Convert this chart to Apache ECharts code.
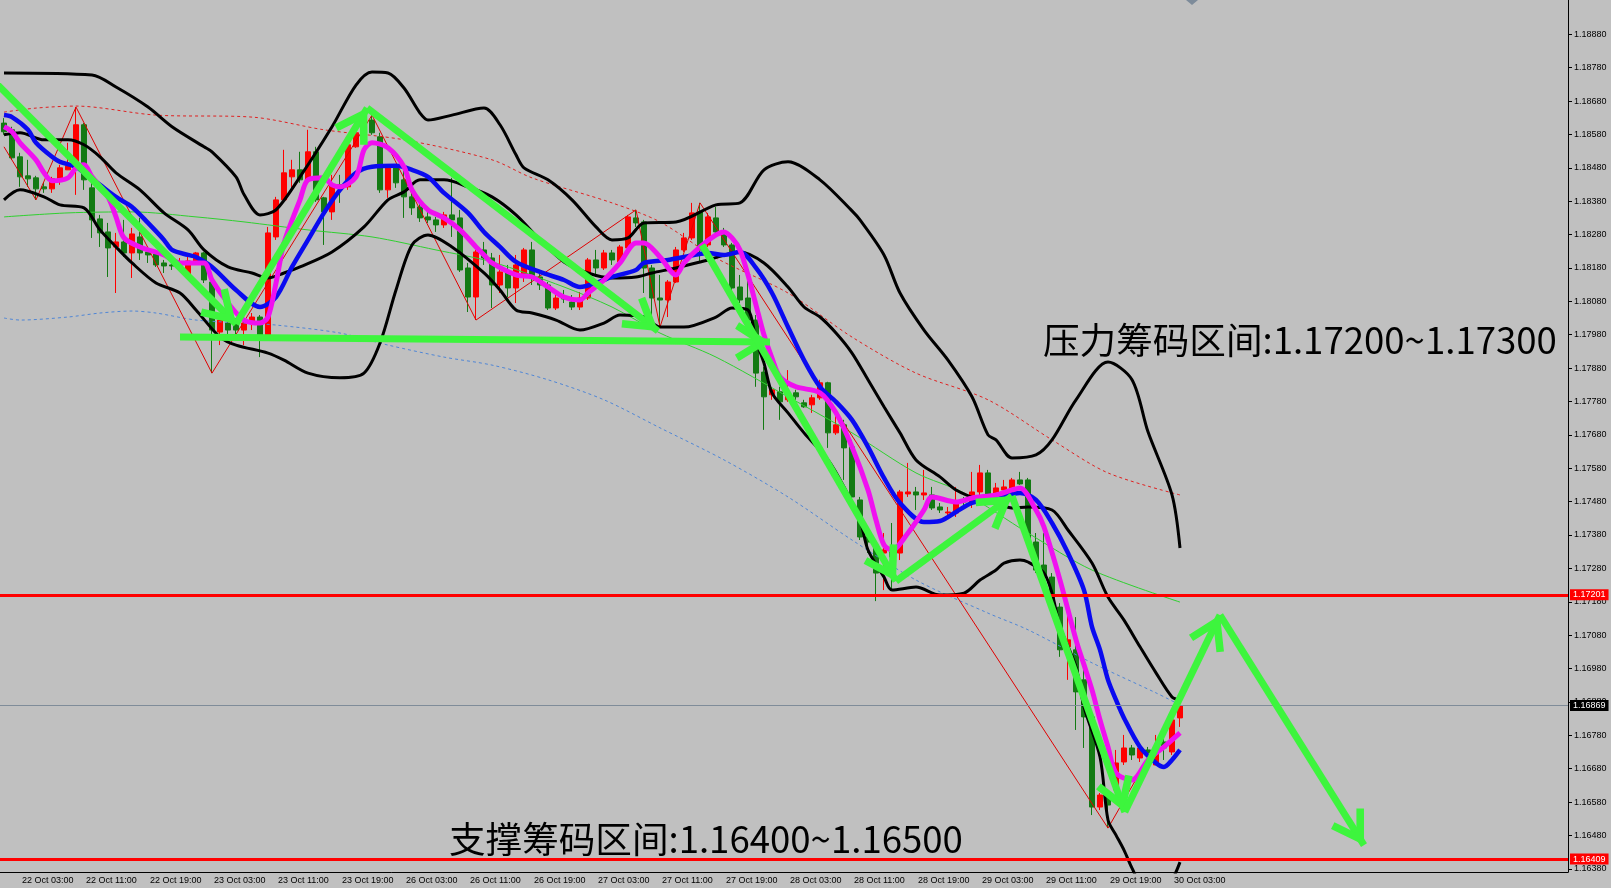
<!DOCTYPE html>
<html><head><meta charset="utf-8">
<script src="https://cdn.jsdelivr.net/npm/echarts@6/dist/echarts.min.js"></script>
<style>html,body{margin:0;padding:0;background:#c0c0c0;}#c{width:1611px;height:888px;}</style>
</head><body><div id="c"></div>
<script>
// ---------- DATA ----------
const days = ['22 Oct','23 Oct','26 Oct','27 Oct','28 Oct','29 Oct','30 Oct','31 Oct','01 Nov'];
const firstHour = 1;           // chart starts at 22 Oct 01:00
const slotCount = 196;         // bars + right shift space
const yTicks = [1.16380,1.16480,1.16580,1.16680,1.16780,1.16880,1.16980,1.17080,1.17180,1.17280,1.17380,1.17480,1.17580,1.17680,1.17780,1.17880,1.17980,1.18080,1.18180,1.18280,1.18380,1.18480,1.18580,1.18680,1.18780,1.18880];

// [open, close, low, high]
const ohlc = [
[1.18614,1.18588,1.18579,1.18629],[1.18594,1.18510,1.18504,1.18603],[1.18513,1.18453,1.18423,1.18525],[1.18456,1.18447,1.18423,1.18504],
[1.18450,1.18417,1.18384,1.18456],[1.18423,1.18417,1.18405,1.18435],[1.18417,1.18447,1.18405,1.18453],[1.18444,1.18480,1.18429,1.18489],
[1.18474,1.18486,1.18474,1.18555],[1.18489,1.18609,1.18399,1.18662],[1.18609,1.18444,1.18414,1.18614],[1.18420,1.18324,1.18270,1.18444],
[1.18327,1.18285,1.18243,1.18339],[1.18288,1.18240,1.18153,1.18315],[1.18243,1.18258,1.18105,1.18285],[1.18258,1.18225,1.18213,1.18324],
[1.18225,1.18282,1.18150,1.18300],[1.18273,1.18225,1.18204,1.18330],[1.18228,1.18219,1.18195,1.18243],[1.18222,1.18189,1.18183,1.18234],
[1.18195,1.18186,1.18165,1.18204],[1.18189,1.18186,1.18174,1.18198],[1.18189,1.18198,1.18180,1.18210],[1.18159,1.18201,1.18153,1.18219],
[1.18195,1.18225,1.18189,1.18228],[1.18225,1.18144,1.18135,1.18228],[1.18138,1.17994,1.17865,1.18144],[1.17988,1.18024,1.17949,1.18033],
[1.18015,1.17994,1.17955,1.18024],[1.18018,1.17994,1.17979,1.18030],[1.17994,1.18015,1.17949,1.18024],[1.18015,1.18033,1.17994,1.18045],
[1.18033,1.17979,1.17913,1.18039],[1.17979,1.18285,1.17973,1.18303],[1.18273,1.18384,1.18264,1.18393],[1.18384,1.18465,1.18378,1.18534],
[1.18453,1.18474,1.18414,1.18504],[1.18474,1.18444,1.18435,1.18528],[1.18444,1.18528,1.18435,1.18594],[1.18528,1.18384,1.18378,1.18543],
[1.18390,1.18348,1.18249,1.18393],[1.18348,1.18429,1.18324,1.18459],[1.18429,1.18420,1.18375,1.18459],[1.18423,1.18549,1.18414,1.18573],
[1.18543,1.18585,1.18540,1.18603],[1.18579,1.18617,1.18573,1.18632],[1.18623,1.18585,1.18579,1.18638],[1.18573,1.18414,1.18405,1.18585],
[1.18414,1.18480,1.18390,1.18489],[1.18480,1.18435,1.18420,1.18489],[1.18444,1.18393,1.18330,1.18480],[1.18393,1.18360,1.18339,1.18405],
[1.18363,1.18330,1.18318,1.18375],[1.18333,1.18324,1.18315,1.18363],[1.18324,1.18309,1.18288,1.18333],[1.18309,1.18339,1.18300,1.18348],
[1.18339,1.18324,1.18273,1.18450],[1.18330,1.18174,1.18168,1.18354],[1.18180,1.18093,1.18048,1.18195],[1.18093,1.18228,1.18024,1.18234],
[1.18234,1.18210,1.18189,1.18258],[1.18210,1.18129,1.18060,1.18225],[1.18129,1.18168,1.18105,1.18219],[1.18165,1.18120,1.18093,1.18189],
[1.18120,1.18189,1.18075,1.18219],[1.18153,1.18234,1.18138,1.18240],[1.18234,1.18150,1.18129,1.18258],[1.18153,1.18129,1.18114,1.18174],
[1.18129,1.18060,1.18054,1.18138],[1.18060,1.18090,1.18054,1.18099],[1.18090,1.18087,1.18075,1.18114],[1.18078,1.18063,1.18054,1.18099],
[1.18063,1.18090,1.18054,1.18108],[1.18090,1.18204,1.18084,1.18210],[1.18204,1.18180,1.18153,1.18234],[1.18180,1.18225,1.18174,1.18234],
[1.18225,1.18204,1.18189,1.18234],[1.18198,1.18243,1.18195,1.18249],[1.18240,1.18333,1.18234,1.18339],[1.18330,1.18315,1.18303,1.18354],
[1.18318,1.18180,1.18105,1.18324],[1.18180,1.18090,1.18024,1.18189],[1.18090,1.18084,1.18003,1.18159],[1.18084,1.18138,1.18033,1.18144],
[1.18138,1.18234,1.18135,1.18243],[1.18234,1.18270,1.18228,1.18285],[1.18270,1.18345,1.18264,1.18375],[1.18348,1.18234,1.18195,1.18375],
[1.18249,1.18333,1.18243,1.18345],[1.18330,1.18288,1.18285,1.18363],[1.18288,1.18249,1.18243,1.18300],[1.18249,1.18120,1.18114,1.18255],
[1.18123,1.18084,1.18075,1.18159],[1.18090,1.18024,1.18018,1.18144],[1.18024,1.17865,1.17824,1.18039],[1.17868,1.17794,1.17695,1.17883],
[1.17800,1.17815,1.17785,1.17821],[1.17809,1.17779,1.17725,1.17824],[1.17785,1.17800,1.17779,1.17874],[1.17806,1.17794,1.17785,1.17815],
[1.17776,1.17764,1.17761,1.17785],[1.17770,1.17791,1.17746,1.17800],[1.17791,1.17836,1.17785,1.17845],[1.17836,1.17686,1.17641,1.17839],
[1.17686,1.17710,1.17680,1.17746],[1.17710,1.17641,1.17545,1.17725],[1.17644,1.17494,1.17485,1.17665],[1.17485,1.17374,1.17365,1.17494],
[1.17374,1.17359,1.17326,1.17395],[1.17341,1.17266,1.17182,1.17344],[1.17326,1.17335,1.17215,1.17386],[1.17335,1.17314,1.17215,1.17416],
[1.17326,1.17509,1.17305,1.17515],[1.17503,1.17509,1.17494,1.17596],[1.17509,1.17500,1.17455,1.17524],[1.17500,1.17506,1.17485,1.17575],
[1.17500,1.17461,1.17455,1.17524],[1.17464,1.17455,1.17446,1.17476],[1.17446,1.17449,1.17440,1.17464],[1.17446,1.17479,1.17434,1.17524],
[1.17485,1.17479,1.17464,1.17494],[1.17476,1.17509,1.17461,1.17569],[1.17509,1.17566,1.17476,1.17590],[1.17566,1.17479,1.17476,1.17575],
[1.17485,1.17521,1.17479,1.17536],[1.17515,1.17524,1.17506,1.17545],[1.17515,1.17545,1.17509,1.17551],[1.17545,1.17533,1.17530,1.17569],
[1.17545,1.17365,1.17356,1.17551],[1.17359,1.17275,1.17266,1.17386],[1.17290,1.17254,1.17245,1.17386],[1.17254,1.17164,1.17155,1.17266],
[1.17164,1.17036,1.17015,1.17176],[1.17045,1.17066,1.16946,1.17164],[1.17036,1.16910,1.16796,1.17134],[1.16946,1.16835,1.16742,1.16976],
[1.16835,1.16565,1.16541,1.16847],[1.16565,1.16601,1.16556,1.16607],[1.16601,1.16571,1.16502,1.16607],[1.16616,1.16697,1.16607,1.16736],
[1.16700,1.16742,1.16691,1.16781],[1.16742,1.16721,1.16706,1.16751],[1.16712,1.16742,1.16700,1.16751],[1.16736,1.16727,1.16706,1.16745],
[1.16691,1.16745,1.16691,1.16781],[1.16760,1.16742,1.16706,1.16787],[1.16730,1.16826,1.16721,1.16832],[1.16832,1.16868,1.16805,1.16877]
];

// indicator lines: [bar index, price]
const bbUpper = [[0,1.18764],[11,1.18758],[14,1.18722],[18,1.18662],[21,1.18603],[25,1.18543],[26,1.18528],[29,1.18453],[30,1.18400],[32,1.18339],[34,1.18354],[37,1.18453],[41,1.18603],[44,1.18728],[46,1.18767],[48,1.18764],[50,1.18719],[52,1.18644],[53,1.18623],[56,1.18638],[60,1.18659],[62,1.18609],[64,1.18519],[65,1.18480],[68,1.18444],[71,1.18384],[74,1.18303],[76,1.18264],[78,1.18270],[80,1.18315],[84,1.18318],[89,1.18369],[92,1.18375],[95,1.18474],[98,1.18498],[102,1.18444],[106,1.18351],[107,1.18324],[110,1.18219],[112,1.18105],[115,1.17994],[118,1.17904],[121,1.17794],[123,1.17680],[124,1.17665],[126,1.17611],[129,1.17620],[131,1.17665],[134,1.17785],[138,1.17898],[141,1.17845],[143,1.17689],[146,1.17500],[147,1.17341]];
const bbMiddle = [[0,1.18579],[2,1.18585],[5,1.18564],[8,1.18564],[10,1.18549],[12,1.18513],[14,1.18465],[17,1.18414],[20,1.18345],[23,1.18294],[25,1.18234],[28,1.18183],[31,1.18165],[33,1.18150],[35,1.18165],[37,1.18183],[41,1.18228],[45,1.18303],[48,1.18384],[50,1.18408],[52,1.18444],[55,1.18444],[58,1.18423],[61,1.18393],[64,1.18339],[67,1.18264],[70,1.18198],[73,1.18165],[76,1.18150],[79,1.18153],[81,1.18165],[84,1.18180],[88,1.18204],[92,1.18228],[95,1.18195],[98,1.18123],[100,1.18063],[102,1.18033],[104,1.17985],[106,1.17925],[108,1.17845],[110,1.17764],[112,1.17686],[114,1.17605],[117,1.17554],[119,1.17515],[122,1.17485],[124,1.17476],[126,1.17461],[128,1.17464],[131,1.17455],[133,1.17395],[136,1.17296],[138,1.17194],[140,1.17125],[142,1.17045],[144,1.16967],[146,1.16895],[147,1.16886]];
const bbLower = [[0,1.18384],[2,1.18414],[5,1.18393],[7,1.18369],[10,1.18360],[12,1.18294],[14,1.18243],[16,1.18195],[19,1.18135],[22,1.18105],[24,1.18054],[27,1.17973],[29,1.17949],[33,1.17925],[35,1.17904],[38,1.17865],[42,1.17851],[45,1.17865],[47,1.17955],[49,1.18114],[51,1.18249],[53,1.18279],[56,1.18243],[60,1.18165],[62,1.18114],[64,1.18054],[66,1.18045],[69,1.18024],[72,1.17994],[75,1.18015],[77,1.18039],[80,1.18033],[82,1.18003],[85,1.18003],[89,1.18033],[91,1.18060],[93,1.18054],[94,1.17963],[95,1.17895],[96,1.17806],[98,1.17746],[100,1.17686],[103,1.17605],[105,1.17524],[107,1.17425],[108,1.17335],[110,1.17254],[111,1.17215],[114,1.17224],[117,1.17200],[120,1.17206],[122,1.17245],[124,1.17275],[125,1.17296],[127,1.17305],[128,1.17299],[130,1.17266],[131,1.17206],[132,1.17105],[134,1.16985],[135,1.16865],[137,1.16715],[138,1.16526],[139,1.16481],[140,1.16436],[141,1.16382],[142,1.16340],[144,1.16316],[145,1.16322],[146,1.16346],[147,1.16400]];
const maFast = [[0,1.18603],[1,1.18588],[2,1.18555],[4,1.18504],[5,1.18465],[6,1.18441],[8,1.18450],[9,1.18480],[10,1.18489],[11,1.18453],[13,1.18393],[14,1.18333],[15,1.18270],[17,1.18243],[20,1.18219],[22,1.18195],[25,1.18195],[26,1.18144],[28,1.18075],[30,1.18024],[32,1.18015],[33,1.18033],[34,1.18135],[35,1.18255],[37,1.18384],[38,1.18444],[40,1.18450],[41,1.18429],[42,1.18423],[44,1.18453],[45,1.18534],[46,1.18555],[48,1.18540],[50,1.18483],[51,1.18414],[53,1.18354],[55,1.18330],[57,1.18294],[59,1.18243],[60,1.18219],[61,1.18195],[64,1.18159],[66,1.18153],[68,1.18123],[70,1.18093],[72,1.18084],[73,1.18105],[75,1.18144],[77,1.18195],[79,1.18255],[80,1.18255],[82,1.18213],[84,1.18159],[85,1.18195],[87,1.18243],[89,1.18279],[90,1.18288],[91,1.18270],[92,1.18234],[93,1.18159],[94,1.18069],[95,1.17979],[96,1.17910],[97,1.17854],[99,1.17824],[102,1.17806],[104,1.17746],[106,1.17644],[108,1.17515],[109,1.17425],[110,1.17350],[111,1.17335],[113,1.17386],[115,1.17455],[116,1.17494],[119,1.17479],[121,1.17491],[124,1.17500],[126,1.17515],[127,1.17521],[129,1.17455],[130,1.17404],[132,1.17245],[134,1.17066],[135,1.16991],[136,1.16916],[137,1.16826],[138,1.16745],[139,1.16667],[141,1.16646],[143,1.16706],[145,1.16745],[147,1.16787]];
const maSlow = [[0,1.18638],[1,1.18632],[3,1.18594],[4,1.18555],[6,1.18513],[7,1.18498],[9,1.18483],[10,1.18465],[12,1.18429],[14,1.18393],[16,1.18363],[18,1.18315],[20,1.18264],[21,1.18234],[23,1.18219],[24,1.18213],[26,1.18183],[29,1.18114],[32,1.18063],[34,1.18093],[36,1.18183],[38,1.18264],[40,1.18345],[42,1.18414],[44,1.18465],[46,1.18483],[49,1.18486],[51,1.18474],[53,1.18453],[55,1.18405],[58,1.18345],[60,1.18288],[62,1.18243],[64,1.18198],[67,1.18168],[70,1.18144],[72,1.18123],[74,1.18135],[76,1.18153],[79,1.18174],[80,1.18195],[83,1.18204],[85,1.18213],[88,1.18225],[90,1.18219],[92,1.18228],[94,1.18180],[96,1.18105],[98,1.18003],[100,1.17904],[102,1.17824],[104,1.17779],[106,1.17725],[108,1.17644],[110,1.17551],[112,1.17476],[115,1.17419],[117,1.17422],[119,1.17449],[121,1.17476],[124,1.17491],[127,1.17506],[129,1.17485],[131,1.17416],[133,1.17326],[135,1.17215],[136,1.17105],[137,1.17036],[138,1.16946],[139,1.16886],[140,1.16832],[142,1.16745],[144,1.16697],[145,1.16685],[146,1.16706],[147,1.16736]];
const maRedDash = [[0,1.18647],[4,1.18659],[9,1.18665],[19,1.18638],[31,1.18632],[40,1.18594],[50,1.18564],[61,1.18504],[66,1.18450],[76,1.18375],[82,1.18318],[89,1.18210],[98,1.18105],[106,1.17973],[114,1.17865],[123,1.17785],[131,1.17665],[138,1.17566],[147,1.17500]];
const maBlueDot = [[0,1.18030],[2,1.18024],[8,1.18033],[12,1.18045],[16,1.18051],[19,1.18045],[24,1.18024],[30,1.18015],[34,1.18009],[42,1.17985],[48,1.17949],[55,1.17913],[61,1.17889],[68,1.17845],[75,1.17785],[82,1.17701],[90,1.17605],[98,1.17494],[106,1.17365],[114,1.17245],[123,1.17146],[128,1.17096],[136,1.16997],[144,1.16907],[147,1.16871]];
const maGreen = [[0,1.18333],[8,1.18345],[16,1.18348],[24,1.18333],[30,1.18318],[38,1.18294],[46,1.18273],[54,1.18234],[61,1.18198],[70,1.18123],[76,1.18063],[82,1.17985],[89,1.17913],[98,1.17794],[106,1.17686],[114,1.17566],[120,1.17506],[128,1.17386],[136,1.17275],[147,1.17179]];
const zigzag = [[0,1.18543],[4,1.18384],[9,1.18662],[26,1.17865],[46,1.18638],[59,1.18024],[79,1.18354],[82,1.18003],[87,1.18375],[138,1.16502],[147,1.16877]];

// hand-drawn arrow segments: [from, to] as [bar index, price]
const arrows = [
  [[-2,1.18758],[29,1.18012]],
  [[29,1.18012],[45.4,1.18659]],
  [[45.4,1.18659],[81.75,1.17991]],
  [[22,1.17973],[95.75,1.17958]],
  [[87.25,1.18249],[111.5,1.17242]],
  [[111.5,1.17242],[126,1.17497]],
  [[126,1.17497],[140.1,1.16550]],
  [[140.1,1.16550],[152,1.17140]],
  [[152,1.17140],[170,1.16451]]
];

const resistLevel = 1.17201, supportLevel = 1.16409, bidLevel = 1.16869;
const resistText = '压力筹码区间:1.17200~1.17300';
const supportText = '支撑筹码区间:1.16400~1.16500';

// ---------- BUILD ----------
const categories = [];
outer: for (let d = 0; d < days.length; d++) {
  for (let h = (d === 0 ? firstHour : 0); h < 24; h++) {
    categories.push(days[d] + ' ' + String(h).padStart(2,'0') + ':00');
    if (categories.length >= slotCount) break outer;
  }
}
const lastBar = ohlc.length - 1;
const showLab = (i) => i % 8 === 2 && i <= lastBar;

const chevron = 'path://M15,0 L30,24 L25,27 L15,11 L5,27 L0,24 Z M-12,-27 L-11.9,-27 L-12,-26.9 Z M42,27 L41.9,27 L42,26.9 Z';
const axisFont = 'Liberation Sans';
const GREEN = '#3df53d';

function lineSeries(data, color, width, type, smooth) {
  return { type:'line', xAxisIndex:1, data, showSymbol:false, silent:true, smooth: smooth,
    lineStyle:{ color, width, type: type || 'solid' }, z:3 };
}
function levelLine(value, color, width, bg) {
  return { yAxis:value, lineStyle:{ color, width, type:'solid' },
    label:{ formatter:value.toFixed(5), backgroundColor:bg, color:'#fff' } };
}

const chart = echarts.init(document.getElementById('c'), null, {renderer:'canvas'});
chart.setOption({
  animation:false,
  backgroundColor:'#c0c0c0',
  grid:{ left:0, right:43, top:0, bottom:16, containLabel:false },
  xAxis:[
    { type:'category', data:categories, boundaryGap:true,
      axisLine:{ onZero:false, lineStyle:{ color:'#000', width:1 } },
      axisTick:{ interval:(i)=>showLab(i), alignWithLabel:true, length:4, lineStyle:{color:'#000'} },
      axisLabel:{ interval:(i)=>showLab(i), align:'left', padding:[0,0,0,2], margin:4, fontSize:9, fontFamily:axisFont, color:'#000' },
      splitLine:{ show:false } },
    { type:'value', min:-0.5, max:slotCount-0.5, show:false, axisLine:{onZero:false} }
  ],
  yAxis:{ type:'value', position:'right', min:1.163704, max:1.189828, scale:true,
    axisLine:{ show:true, onZero:false, lineStyle:{ color:'#000', width:1 } },
    axisTick:{ show:true, length:4, customValues:yTicks, lineStyle:{color:'#000'} },
    axisLabel:{ customValues:yTicks, formatter:(v)=>v.toFixed(5), margin:6, fontSize:9, fontFamily:axisFont, color:'#000' },
    splitLine:{ show:false } },
  graphic:[
    { type:'text', x:1043, y:340, z:100, style:{ text:resistText, font:'36.6px "Noto Sans CJK SC"', fill:'#000', verticalAlign:'middle' } },
    { type:'text', x:449, y:839, z:100, style:{ text:supportText, font:'36.6px "Noto Sans CJK SC"', fill:'#000', verticalAlign:'middle' } },
    { type:'polygon', z:100, shape:{ points:[[1186,0],[1198,0],[1192,5]] }, style:{ fill:'#7d8b9a' } }
  ],
  series:[
    { type:'candlestick', data:ohlc, barWidth:5, silent:true, z:2,
      itemStyle:{ color:'#ff0000', color0:'#137a13', borderColor:'#ff0000', borderColor0:'#137a13', borderWidth:1 } },
    { type:'line', xAxisIndex:1, data:[], silent:true, z:4,
      markLine:{ silent:true, symbol:['none','none'], animation:false, precision:5,
        label:{ show:true, position:'end', distance:2, fontSize:9, fontFamily:axisFont, padding:[1,3,1,3] },
        data:[
          levelLine(resistLevel, '#ff0000', 3, '#ff0000'),
          levelLine(supportLevel, '#ff0000', 3, '#ff0000'),
          levelLine(bidLevel, '#7f8c99', 1, '#000')
        ] } },
    lineSeries(maGreen, '#2fd02f', 1, 'solid', 0.3),
    lineSeries(maBlueDot, '#4f86d6', 1, [3,3], 0.3),
    lineSeries(maRedDash, '#e02020', 1, [3,3], 0.3),
    lineSeries(zigzag, '#e00000', 1, 'solid', false),
    lineSeries(bbUpper, '#000', 3, 'solid', 0.3),
    lineSeries(bbMiddle, '#000', 3, 'solid', 0.3),
    lineSeries(bbLower, '#000', 3, 'solid', 0.3),
    lineSeries(maSlow, '#0a0af0', 4.5, 'solid', 0.3),
    lineSeries(maFast, '#f010f0', 5, 'solid', 0.3),
    { type:'lines', coordinateSystem:'cartesian2d', xAxisIndex:1, yAxisIndex:0, silent:true, clip:true, z:10,
      symbol:['none', chevron], symbolSize:[1, 70],
      lineStyle:{ color:GREEN, width:7, opacity:1, curveness:0 },
      data: arrows.map(a => ({ coords:a })) }
  ]
});
</script></body></html>
